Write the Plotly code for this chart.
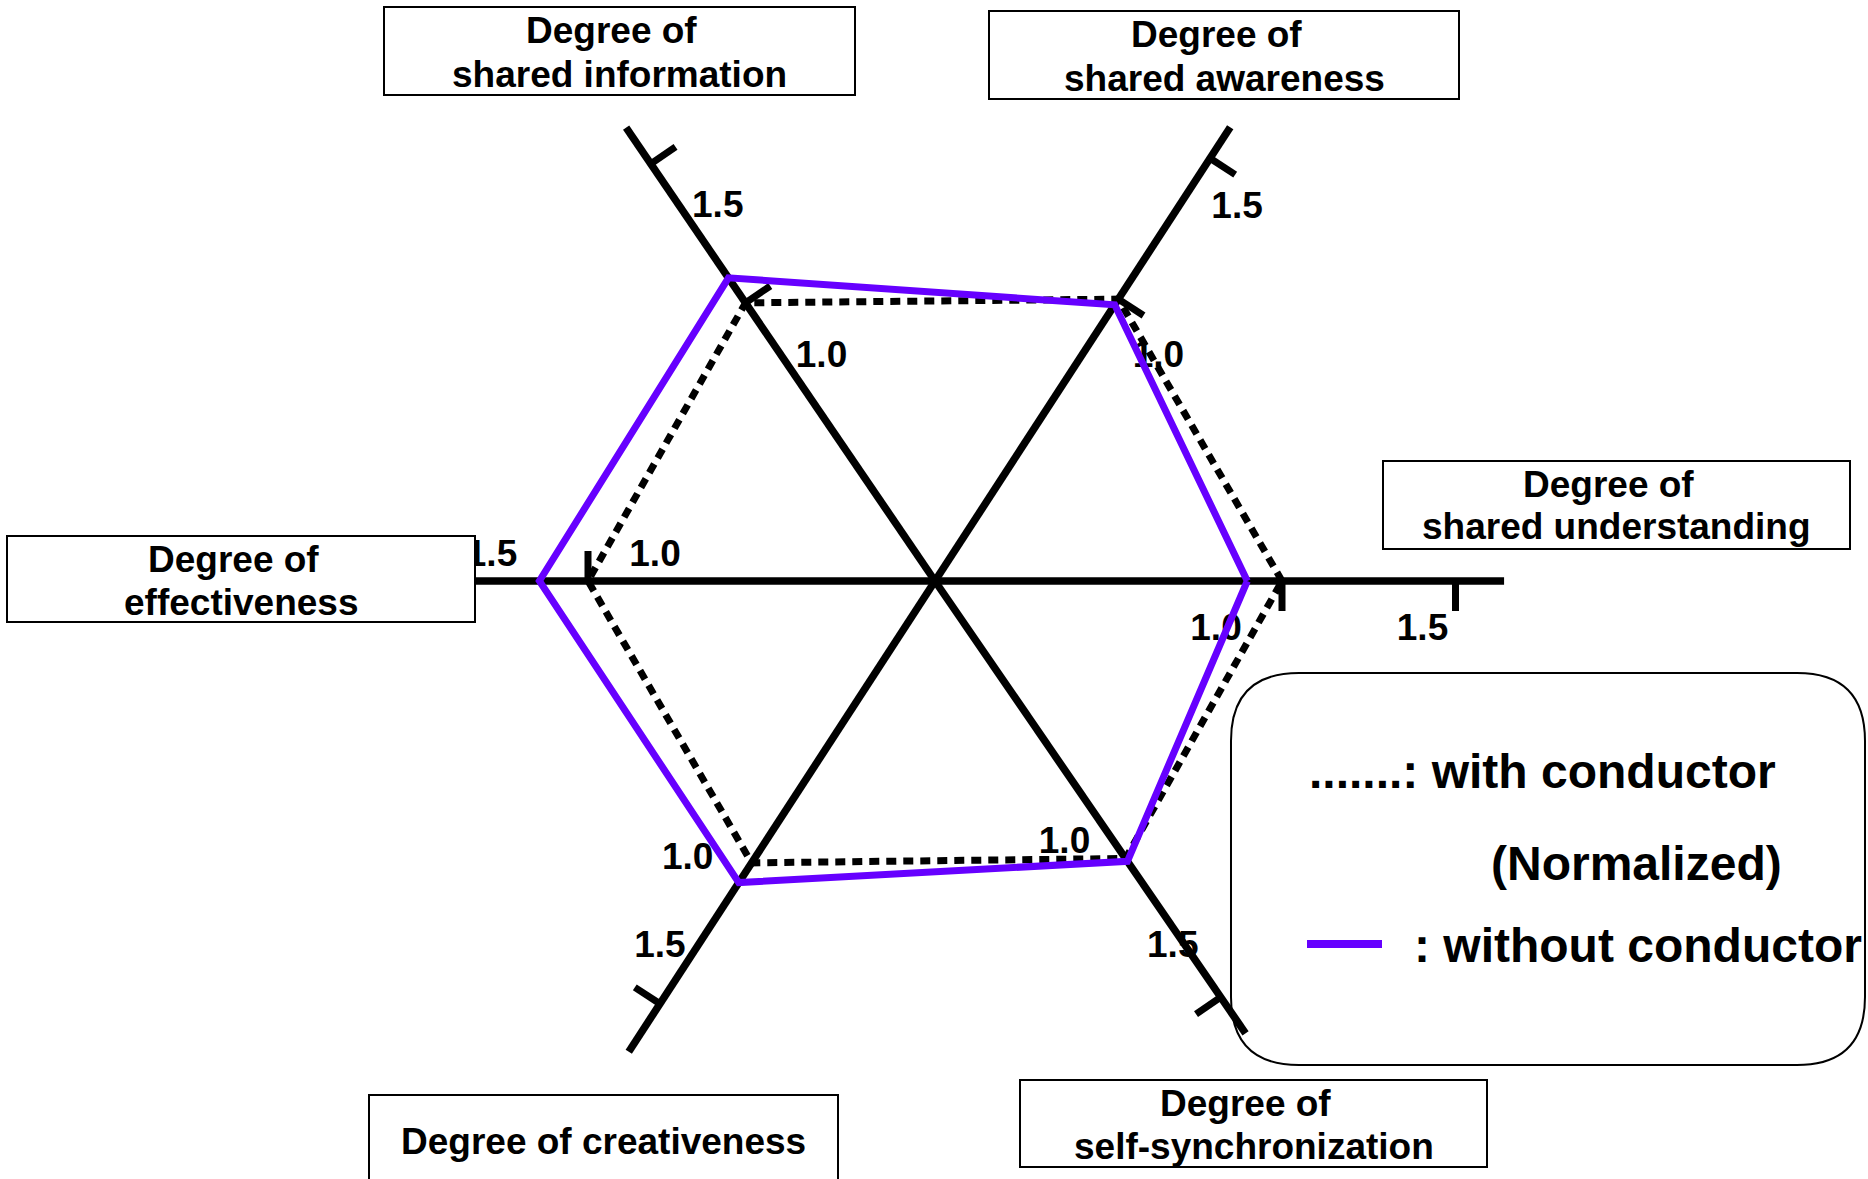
import math
import plotly.graph_objects as go

# ---------------- data ----------------
categories = [
    "Degree of shared understanding",
    "Degree of shared awareness",
    "Degree of shared information",
    "Degree of effectiveness",
    "Degree of creativeness",
    "Degree of self-synchronization",
]
category_lines = [
    ["Degree of", "shared understanding"],
    ["Degree of", "shared awareness"],
    ["Degree of", "shared information"],
    ["Degree of", "effectiveness"],
    ["Degree of creativeness"],
    ["Degree of", "self-synchronization"],
]
with_conductor = [1.0, 1.0, 1.0, 1.0, 1.0, 1.0]          # normalized
without_conductor = [0.90, 0.98, 1.09, 1.14, 1.07, 1.01]
tick_values = [1.0, 1.5]
tick_labels = ["1.0", "1.5"]
legend_with = ".......: with conductor"
legend_norm = "(Normalized)"
legend_without = ": without conductor"

# ---------------- layout / style ----------------
W, H = 1868, 1179
CX, CY = 935.0, 581.0       # centre of the star, px
SX, SY = 347.0, 332.0       # px per unit of value (x, y)
axis_angles = [0.0, 58.1, 123.1, 180.0, 238.1, 303.3]
axis_len = [1.64, 1.61, 1.63, 1.64, 1.67, 1.63]
TICK_PX = 30.0
FONT = "Arial, 'Liberation Sans', Helvetica, sans-serif"
PURPLE = "#6600FF"

ticks_on_axis = [[1.0, 1.5], [1.0, 1.5], [1.0, 1.5], [1.0, 1.5], [1.5], [1.5]]
# px offsets (right, down) from the tick point to the label centre
label_offsets = {
    (0, 1.0): (-66, 50), (0, 1.5): (-33, 50),
    (1, 1.0): (40, 59), (1, 1.5): (27, 51),
    (2, 1.0): (76, 55), (2, 1.5): (67, 44),
    (3, 1.0): (67, -24), (3, 1.5): (77, -24),
    (4, 1.0): (-64, -3), (4, 1.5): (0, -56),
    (5, 1.0): (-61, -15), (5, 1.5): (-48, -49),
}
# category boxes in px: (x0, y0, x1, y1, [line centre y ...])
boxes = [
    (1383, 461, 1850, 549, [484, 527]),
    (989, 11, 1459, 99, [34, 79]),
    (384, 7, 855, 95, [30, 74]),
    (7, 536, 475, 622, [559, 602]),
    (369, 1095, 838, 1190, [1141]),
    (1020, 1080, 1487, 1167, [1103, 1146]),
]


def unit(i):
    a = math.radians(axis_angles[i])
    return math.cos(a), math.sin(a)


def pt(i, v):
    c, s = unit(i)
    return v * c, v * s


def px(x):
    return x / W


def py(y):
    return 1 - y / H


fig = go.Figure()

# axes
ax_x, ax_y = [], []
for i in range(len(categories)):
    x, y = pt(i, axis_len[i])
    ax_x += [0, x, None]
    ax_y += [0, y, None]
fig.add_trace(go.Scatter(x=ax_x, y=ax_y, mode="lines",
                         line=dict(color="black", width=7.5),
                         hoverinfo="skip", showlegend=False))

# tick marks (perpendicular to the axis on screen)
tk_x, tk_y = [], []
for i, vals in enumerate(ticks_on_axis):
    c, s = unit(i)
    dx, dy = SX * c, SY * s
    n = math.hypot(dx, dy)
    ux, uy = dx / n, dy / n
    for v in vals:
        x, y = pt(i, v)
        tk_x += [x, x + TICK_PX * uy / SX, None]
        tk_y += [y, y - TICK_PX * ux / SY, None]
fig.add_trace(go.Scatter(x=tk_x, y=tk_y, mode="lines",
                         line=dict(color="black", width=7),
                         hoverinfo="skip", showlegend=False))

# tick labels
tl_x, tl_y, tl_t = [], [], []
for i in range(len(categories)):
    for v, lab in zip(tick_values, tick_labels):
        x, y = pt(i, v)
        ox, oy = label_offsets[(i, v)]
        tl_x.append(x + ox / SX)
        tl_y.append(y - oy / SY)
        tl_t.append("<b>" + lab + "</b>")
fig.add_trace(go.Scatter(x=tl_x, y=tl_y, mode="text", text=tl_t,
                         textposition="middle center",
                         textfont=dict(family=FONT, size=37, color="black"),
                         hoverinfo="skip", showlegend=False))


def polygon(vals):
    xs, ys = [], []
    for i, v in enumerate(vals):
        x, y = pt(i, v)
        xs.append(x)
        ys.append(y)
    return xs + xs[:1], ys + ys[:1]


wx, wy = polygon(with_conductor)
fig.add_trace(go.Scatter(x=wx, y=wy, mode="lines", name="with conductor",
                         line=dict(color="black", width=7, dash="10px,7px"),
                         hoverinfo="skip", showlegend=False))
ox_, oy_ = polygon(without_conductor)
fig.add_trace(go.Scatter(x=ox_, y=oy_, mode="lines", name="without conductor",
                         line=dict(color=PURPLE, width=7),
                         hoverinfo="skip", showlegend=False))

shapes = []
annotations = []

# category boxes + texts
for lines, (x0, y0, x1, y1, ys) in zip(category_lines, boxes):
    shapes.append(dict(type="rect", xref="paper", yref="paper",
                       x0=px(x0), x1=px(x1), y0=py(y1), y1=py(y0),
                       line=dict(color="black", width=2), fillcolor="white",
                       layer="above"))
    for line, yc in zip(lines, ys):
        annotations.append(dict(
            text="<b>" + line + "</b>", xref="paper", yref="paper",
            x=px((x0 + x1) / 2), y=py(yc), xanchor="center", yanchor="middle",
            xshift=-8 if (line == "Degree of") else 0,
            showarrow=False, borderpad=0, borderwidth=0,
            font=dict(family=FONT, size=37, color="black")))

# legend box (rounded)
lx0, ly0, lx1, ly1, rr = 1231, 673, 1865, 1065, 68
pts = [("M", lx0 + rr, ly0), ("L", lx1 - rr, ly0), ("Q", lx1, ly0, lx1, ly0 + rr),
       ("L", lx1, ly1 - rr), ("Q", lx1, ly1, lx1 - rr, ly1), ("L", lx0 + rr, ly1),
       ("Q", lx0, ly1, lx0, ly1 - rr), ("L", lx0, ly0 + rr), ("Q", lx0, ly0, lx0 + rr, ly0)]
path = ""
for p in pts:
    cmd = p[0]
    coords = p[1:]
    segs = []
    for k in range(0, len(coords), 2):
        segs.append("%.5f,%.5f" % (px(coords[k]), py(coords[k + 1])))
    path += cmd + " " + " ".join(segs) + " "
path += "Z"
shapes.append(dict(type="path", xref="paper", yref="paper", path=path,
                   line=dict(color="black", width=2), fillcolor="rgba(0,0,0,0)",
                   layer="below"))

# legend sample line (without conductor)
shapes.append(dict(type="line", xref="paper", yref="paper",
                   x0=px(1307), x1=px(1382), y0=py(944), y1=py(944),
                   line=dict(color=PURPLE, width=8), layer="above"))

for txt, xl, yc in [(legend_with, 1309, 771), (legend_norm, 1491, 863),
                    (legend_without, 1414, 945)]:
    annotations.append(dict(
        text="<b>" + txt + "</b>", xref="paper", yref="paper",
        x=px(xl), y=py(yc), xanchor="left", yanchor="middle",
        showarrow=False, borderpad=0, borderwidth=0,
        font=dict(family=FONT, size=48, color="black")))

fig.update_xaxes(range=[-CX / SX, (W - CX) / SX], visible=False, fixedrange=True)
fig.update_yaxes(range=[-(H - CY) / SY, CY / SY], visible=False, fixedrange=True)
fig.update_layout(width=W, height=H, margin=dict(l=0, r=0, t=0, b=0, pad=0),
                  plot_bgcolor="white", paper_bgcolor="white",
                  showlegend=False, hovermode=False,
                  shapes=shapes, annotations=annotations)

fig.write_html("out.html", config={"displayModeBar": False},
               post_script="document.body.style.margin='0';"
                           "document.body.style.overflow='hidden';")
